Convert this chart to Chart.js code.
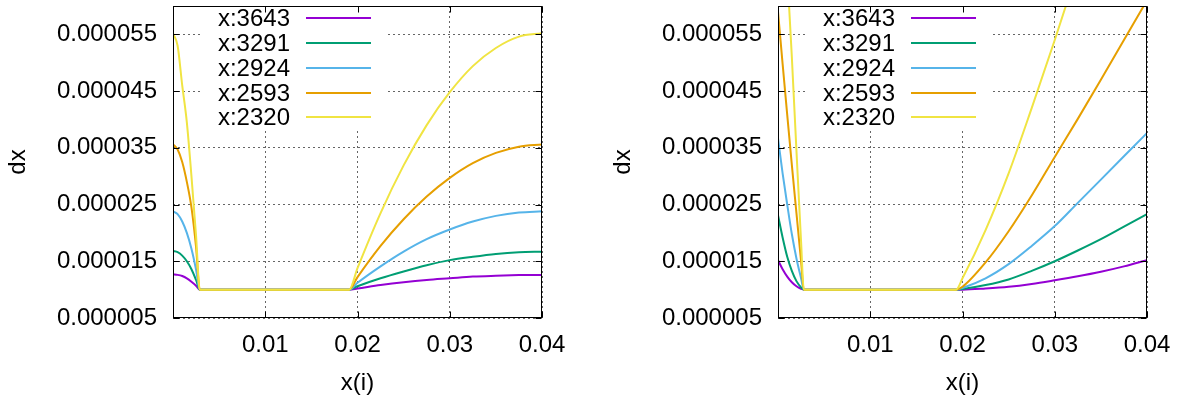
<!DOCTYPE html>
<html>
<head>
<meta charset="utf-8">
<script src="https://cdn.jsdelivr.net/npm/chart.js@4"></script>
<style>
html, body { margin: 0; padding: 0; background: #fff; }
#wrap { position: relative; width: 1177px; height: 401px; }
canvas { position: absolute; top: 0; }
#chartLeft { left: 0; }
#chartRight { left: 605px; }
</style>
</head>
<body>
<div id="wrap">
  <canvas id="chartLeft" width="600" height="401"></canvas>
  <canvas id="chartRight" width="572" height="401"></canvas>
</div>
<script>
const seriesNames = ['x:3643', 'x:3291', 'x:2924', 'x:2593', 'x:2320'];
const colors = ['#9400d3', '#009e73', '#56b4e9', '#e69f00', '#f0e442'];
const xTicks = [0, 0.01, 0.02, 0.03, 0.04];
const yTicks = [0.000005, 0.000015, 0.000025, 0.000035, 0.000045, 0.000055];

// left panel
const leftX = [0, 0.0005, 0.001, 0.0015, 0.002, 0.0025, 0.0029, 0.0191, 0.02, 0.0225, 0.025, 0.0275, 0.03, 0.0325, 0.035, 0.0375, 0.04];
const left3643 = [1.27e-5, 1.26e-5, 1.24e-5, 1.20e-5, 1.14e-5, 1.07e-5, 1.00e-5, 1.00e-5, 1.02e-5, 1.08e-5, 1.13e-5, 1.17e-5, 1.20e-5, 1.23e-5, 1.245e-5, 1.256e-5, 1.26e-5];
const left3291 = [1.68e-5, 1.66e-5, 1.60e-5, 1.50e-5, 1.36e-5, 1.17e-5, 1.00e-5, 1.00e-5, 1.06e-5, 1.20e-5, 1.32e-5, 1.43e-5, 1.52e-5, 1.58e-5, 1.63e-5, 1.66e-5, 1.67e-5];
const left2924 = [2.38e-5, 2.33e-5, 2.20e-5, 2.00e-5, 1.72e-5, 1.35e-5, 1.00e-5, 1.00e-5, 1.12e-5, 1.41e-5, 1.67e-5, 1.89e-5, 2.06e-5, 2.20e-5, 2.30e-5, 2.36e-5, 2.38e-5];
const left2593 = [3.56e-5, 3.47e-5, 3.25e-5, 2.90e-5, 2.45e-5, 1.75e-5, 1.00e-5, 1.00e-5, 1.22e-5, 1.77e-5, 2.24e-5, 2.64e-5, 2.97e-5, 3.23e-5, 3.41e-5, 3.52e-5, 3.56e-5];
const left2320 = [5.52e-5, 5.30e-5, 4.60e-5, 3.95e-5, 3.00e-5, 1.95e-5, 1.00e-5, 1.00e-5, 1.38e-5, 2.35e-5, 3.19e-5, 3.90e-5, 4.48e-5, 4.94e-5, 5.26e-5, 5.46e-5, 5.52e-5];

// right panel
const rightX = [0, 0.0005, 0.001, 0.0015, 0.002, 0.0025, 0.0028, 0.0193, 0.02, 0.0225, 0.025, 0.0275, 0.03, 0.0325, 0.035, 0.0375, 0.04];
const right3643 = [1.52e-5, 1.36e-5, 1.23e-5, 1.13e-5, 1.06e-5, 1.015e-5, 1.00e-5, 1.00e-5, 1.00e-5, 1.02e-5, 1.05e-5, 1.10e-5, 1.165e-5, 1.235e-5, 1.315e-5, 1.41e-5, 1.52e-5];
const right3291 = [2.31e-5, 1.92e-5, 1.58e-5, 1.33e-5, 1.15e-5, 1.04e-5, 1.00e-5, 1.00e-5, 1.01e-5, 1.08e-5, 1.18e-5, 1.33e-5, 1.50e-5, 1.69e-5, 1.89e-5, 2.11e-5, 2.33e-5];
const right2924 = [3.67e-5, 3.05e-5, 2.50e-5, 1.98e-5, 1.55e-5, 1.20e-5, 1.00e-5, 1.00e-5, 1.03e-5, 1.20e-5, 1.45e-5, 1.77e-5, 2.12e-5, 2.53e-5, 2.94e-5, 3.35e-5, 3.76e-5];
const right2593 = [5.90e-5, 4.98e-5, 4.08e-5, 3.20e-5, 2.35e-5, 1.50e-5, 1.00e-5, 1.00e-5, 1.05e-5, 1.48e-5, 2.03e-5, 2.66e-5, 3.34e-5, 4.01e-5, 4.70e-5, 5.40e-5, 6.10e-5];
const right2320 = [9.50e-5, 8.00e-5, 6.60e-5, 5.10e-5, 3.45e-5, 1.85e-5, 1.00e-5, 1.00e-5, 1.20e-5, 2.05e-5, 3.05e-5, 4.20e-5, 5.40e-5, 6.65e-5, 7.90e-5, 9.15e-5, 10.40e-5];

const FONT = { family: '"Liberation Sans", Arial, sans-serif', size: 24 };
Chart.defaults.font.family = FONT.family;
Chart.defaults.color = '#000';

function makeDatasets(xs, series) {
  return series.map((ys, i) => ({
    label: seriesNames[i],
    data: ys.map((v, j) => ({ x: xs[j], y: v })),
    borderColor: colors[i],
    backgroundColor: colors[i],
    borderWidth: 2,
    pointRadius: 0,
    fill: false,
    cubicInterpolationMode: 'monotone',
    order: 4 - i
  }));
}

// gnuplot style key, frame and inner tick marks
const gnuFrame = {
  id: 'gnuFrame',
  beforeDatasetsDraw(chart) {
    const { ctx, chartArea: a } = chart;
    ctx.save();
    ctx.fillStyle = '#fff';
    ctx.fillRect(a.left + 29, a.top + 1, 183, 124);
    ctx.restore();
  },
  afterDatasetsDraw(chart) {
    const { ctx, chartArea: a, scales } = chart;
    ctx.save();
    ctx.font = FONT.size + 'px ' + FONT.family;
    ctx.textAlign = 'right';
    ctx.textBaseline = 'middle';
    chart.data.datasets.forEach((ds, i) => {
      const y = Math.round(a.top + 12.3 + i * 24.75);
      ctx.fillStyle = '#000';
      ctx.fillText(ds.label, a.left + 117, y + 1);
      ctx.strokeStyle = ds.borderColor;
      ctx.lineWidth = 2;
      ctx.beginPath();
      ctx.moveTo(a.left + 133, y);
      ctx.lineTo(a.left + 198, y);
      ctx.stroke();
    });
    ctx.strokeStyle = '#000';
    ctx.lineWidth = 1;
    const L = Math.round(a.left) + 0.5, R = Math.round(a.right) - 0.5;
    const T = Math.round(a.top) + 0.5, B = Math.round(a.bottom) - 0.5;
    ctx.beginPath();
    scales.x.ticks.forEach(t => {
      const px = Math.round(scales.x.getPixelForValue(t.value)) + 0.5;
      ctx.moveTo(px, B); ctx.lineTo(px, B - 6);
      ctx.moveTo(px, T); ctx.lineTo(px, T + 6);
    });
    scales.y.ticks.forEach(t => {
      const py = Math.round(scales.y.getPixelForValue(t.value)) + 0.5;
      ctx.moveTo(L, py); ctx.lineTo(L + 6, py);
      ctx.moveTo(R, py); ctx.lineTo(R - 6, py);
    });
    ctx.stroke();
    ctx.strokeRect(L, T, R - L, B - T);
    ctx.restore();
  }
};

function makeOptions(padRight) {
  const gridOpts = { color: 'rgba(0,0,0,0.6)', lineWidth: 1, drawTicks: false };
  return {
    responsive: false,
    animation: false,
    layout: { padding: { left: 0, right: padRight, top: 6, bottom: 0 } },
    plugins: { legend: { display: false }, tooltip: { enabled: false } },
    scales: {
      x: {
        type: 'linear',
        min: 0,
        max: 0.04,
        afterBuildTicks: s => { s.ticks = xTicks.map(v => ({ value: v })); },
        ticks: {
          callback: v => v === 0 ? '' : v.toFixed(2),
          font: FONT, color: '#000', padding: 13, maxRotation: 0, autoSkip: false
        },
        grid: gridOpts,
        border: { display: false, dash: [2, 3] },
        title: { display: true, text: 'x(i)', font: FONT, color: '#000', padding: { top: 0, bottom: 3 } },
        afterFit: s => { s.height = 83; s.paddingLeft = 0; s.paddingRight = 0; }
      },
      y: {
        min: 0.000005,
        max: 0.00006,
        afterBuildTicks: s => { s.ticks = yTicks.map(v => ({ value: v })); },
        ticks: {
          callback: v => v.toFixed(6),
          font: FONT, color: '#000', padding: 16, autoSkip: false
        },
        grid: gridOpts,
        border: { display: false, dash: [2, 3] },
        title: { display: true, text: 'dx', font: FONT, color: '#000', padding: { top: 4, bottom: 0 } },
        afterFit: s => { s.width = 173; s.paddingTop = 0; s.paddingBottom = 0; }
      }
    }
  };
}

new Chart(document.getElementById('chartLeft'), {
  type: 'line',
  data: { datasets: makeDatasets(leftX, [left3643, left3291, left2924, left2593, left2320]) },
  options: makeOptions(58),
  plugins: [gnuFrame]
});

new Chart(document.getElementById('chartRight'), {
  type: 'line',
  data: { datasets: makeDatasets(rightX, [right3643, right3291, right2924, right2593, right2320]) },
  options: makeOptions(30),
  plugins: [gnuFrame]
});
</script>
</body>
</html>
